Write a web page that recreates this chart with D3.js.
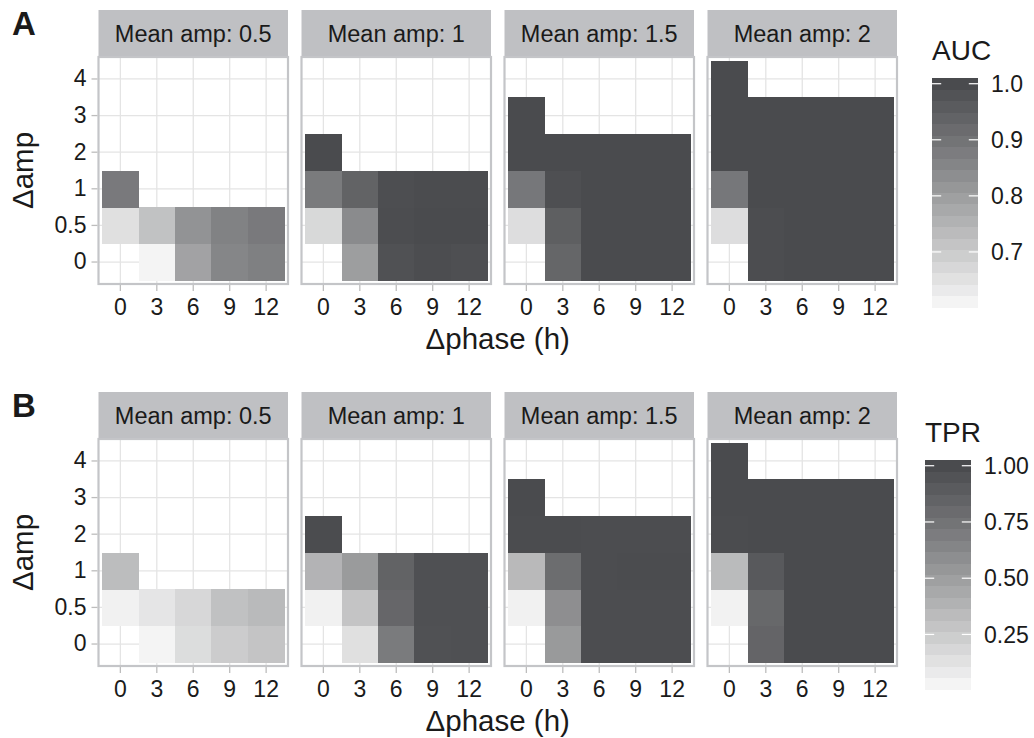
<!DOCTYPE html>
<html>
<head>
<meta charset="utf-8">
<script src="https://cdn.jsdelivr.net/npm/d3@7"></script>
<style>
  body { margin: 0; background: #fff; }
  svg text { font-family: "Liberation Sans", Arial, Helvetica, sans-serif; fill: #1a1a1a; }
</style>
</head>
<body>
<svg id="chart" width="1034" height="738"></svg>
<script>
const phases = ['0', '3', '6', '9', '12'];
const ampDiffs = ['0', '0.5', '1', '2', '3', '4'];
const meanAmps = ['0.5', '1', '1.5', '2'];

// rows follow ampDiffs, columns follow phases; null = no tile
const auc05 = [
    [null, 0.612, 0.79, 0.855, 0.87],
    [0.655, 0.72, 0.825, 0.865, 0.885],
    [0.885, null, null, null, null]
];
const auc1 = [
    [null, 0.80, 0.985, 0.995, 0.99],
    [0.67, 0.843, 0.995, 1.0, 1.0],
    [0.882, 0.94, 0.993, 0.998, 0.998],
    [1.0, null, null, null, null]
];
const auc15 = [
    [null, 0.933, 1.0, 1.0, 1.0],
    [0.66, 0.95, 1.0, 1.0, 1.0],
    [0.89, 0.99, 1.0, 1.0, 1.0],
    [1.0, 1.0, 1.0, 1.0, 1.0],
    [1.0, null, null, null, null]
];
const auc2 = [
    [null, 0.995, 1.0, 1.0, 1.0],
    [0.66, 0.995, 1.0, 1.0, 1.0],
    [0.89, 1.0, 1.0, 1.0, 1.0],
    [1.0, 1.0, 1.0, 1.0, 1.0],
    [1.0, 1.0, 1.0, 1.0, 1.0],
    [1.0, null, null, null, null]
];

const tpr05 = [
    [null, 0.033, 0.157, 0.247, 0.29],
    [0.05, 0.11, 0.186, 0.307, 0.345],
    [0.33, null, null, null, null]
];
const tpr1 = [
    [null, 0.14, 0.706, 0.96, 0.965],
    [0.05, 0.29, 0.827, 0.965, 0.965],
    [0.38, 0.52, 0.85, 0.97, 0.97],
    [0.995, null, null, null, null]
];
const tpr15 = [
    [null, 0.525, 0.99, 0.99, 0.99],
    [0.05, 0.59, 0.99, 0.99, 0.99],
    [0.35, 0.79, 0.99, 0.995, 0.995],
    [0.995, 0.995, 0.99, 0.99, 0.99],
    [1.0, null, null, null, null]
];
const tpr2 = [
    [null, 0.84, 1.0, 1.0, 1.0],
    [0.045, 0.82, 1.0, 1.0, 1.0],
    [0.34, 0.91, 1.0, 1.0, 1.0],
    [0.995, 1.0, 1.0, 1.0, 1.0],
    [1.0, 1.0, 1.0, 1.0, 1.0],
    [1.0, null, null, null, null]
];

const aucBreaks = [0.7, 0.8, 0.9, 1.0];
const tprBreaks = [0.25, 0.5, 0.75, 1.0];

const LOW = '#f4f4f4';
const HIGH = '#4a4b4e';
const PANEL_X0 = 98.5;
const PANEL_STEP = 203;
const PANEL_W = 189.5;
const PANEL_H = 227;
const STRIP_H = 47;
const N_BINS = 20;
const TICK_FONT = 23;
const TITLE_FONT = 29.5;

const svg = d3.select('#chart');

function toTiles(grid) {
    const tiles = [];
    grid.forEach((row, i) => {
        row.forEach((v, j) => {
            if (v !== null) tiles.push({ amp: ampDiffs[i], phase: phases[j], value: v });
        });
    });
    return tiles;
}

function styleAxis(axisG) {
    axisG.select('.domain').remove();
    axisG.selectAll('line').attr('stroke', '#bdbdbd').attr('stroke-width', 1.3);
    axisG.selectAll('text')
        .attr('font-size', TICK_FONT)
        .attr('font-family', '"Liberation Sans", Arial, sans-serif')
        .attr('fill', '#1a1a1a');
}

function drawRow(opts) {
    const { top, letter, grids, title, breaks, fmt, legendX } = opts;
    const panelTop = top + STRIP_H;
    const allValues = grids.flat(2).filter(v => v !== null);
    const extent = d3.extent(allValues);

    const color = d3.scaleLinear()
        .domain(extent)
        .range([LOW, HIGH])
        .interpolate(d3.interpolateLab);

    const x = d3.scaleBand().domain(phases).range([0, PANEL_W]).paddingInner(0).paddingOuter(0.1);
    const y = d3.scaleBand().domain(ampDiffs).range([PANEL_H, 0]).paddingInner(0).paddingOuter(0.1);

    svg.append('text')
        .attr('x', 12)
        .attr('y', top + 25)
        .attr('font-size', 33)
        .attr('font-weight', 'bold')
        .text(letter);

    grids.forEach((grid, k) => {
        const g = svg.append('g')
            .attr('transform', `translate(${PANEL_X0 + k * PANEL_STEP},${panelTop})`);

        // strip
        g.append('rect')
            .attr('x', 0)
            .attr('y', -STRIP_H)
            .attr('width', PANEL_W)
            .attr('height', STRIP_H)
            .attr('fill', '#bfc0c3');
        g.append('text')
            .attr('x', PANEL_W / 2)
            .attr('y', -STRIP_H / 2)
            .attr('dy', '0.36em')
            .attr('text-anchor', 'middle')
            .attr('font-size', 23.5)
            .text(`Mean amp: ${meanAmps[k]}`);

        g.append('rect')
            .attr('width', PANEL_W)
            .attr('height', PANEL_H)
            .attr('fill', '#fff');

        // grid lines
        g.append('g').selectAll('line')
            .data(phases)
            .join('line')
            .attr('x1', d => x(d) + x.bandwidth() / 2)
            .attr('x2', d => x(d) + x.bandwidth() / 2)
            .attr('y1', 0)
            .attr('y2', PANEL_H)
            .attr('stroke', '#e4e4e4')
            .attr('stroke-width', 1.3);
        g.append('g').selectAll('line')
            .data(ampDiffs)
            .join('line')
            .attr('x1', 0)
            .attr('x2', PANEL_W)
            .attr('y1', d => y(d) + y.bandwidth() / 2)
            .attr('y2', d => y(d) + y.bandwidth() / 2)
            .attr('stroke', '#e4e4e4')
            .attr('stroke-width', 1.3);

        g.append('g')
            .attr('shape-rendering', 'crispEdges')
            .selectAll('rect.tile')
            .data(toTiles(grid))
            .join('rect')
            .attr('class', 'tile')
            .attr('x', d => x(d.phase))
            .attr('y', d => y(d.amp))
            .attr('width', x.bandwidth() + 0.5)
            .attr('height', y.bandwidth() + 0.5)
            .attr('fill', d => color(d.value));

        g.append('rect')
            .attr('width', PANEL_W)
            .attr('height', PANEL_H)
            .attr('fill', 'none')
            .attr('stroke', '#c4c5c8')
            .attr('stroke-width', 2.2);

        const xAxis = g.append('g')
            .attr('transform', `translate(0,${PANEL_H + 1})`)
            .call(d3.axisBottom(x).tickSize(6).tickPadding(8));
        styleAxis(xAxis);

        if (k === 0) {
            const yAxis = g.append('g')
                .attr('transform', 'translate(-1,0)')
                .call(d3.axisLeft(y).tickSize(6).tickPadding(5));
            styleAxis(yAxis);
        }
    });

    // axis titles
    const panelsRight = PANEL_X0 + 3 * PANEL_STEP + PANEL_W;
    svg.append('text')
        .attr('x', (PANEL_X0 + panelsRight) / 2)
        .attr('y', panelTop + PANEL_H + 65)
        .attr('text-anchor', 'middle')
        .attr('font-size', TITLE_FONT)
        .text('Δphase (h)');
    svg.append('text')
        .attr('transform', `translate(33,${panelTop + PANEL_H / 2}) rotate(-90)`)
        .attr('text-anchor', 'middle')
        .attr('font-size', TITLE_FONT)
        .text('Δamp');

    // colour bar legend
    const barTop = top + 68;
    const barH = 229;
    const barW = 46;
    const binH = barH / N_BINS;
    const lg = svg.append('g').attr('transform', `translate(${legendX},0)`);
    lg.append('text')
        .attr('x', 0)
        .attr('y', top + 50)
        .attr('font-size', 28)
        .text(title);

    const bins = d3.range(N_BINS).map(i => extent[0] + (i / (N_BINS - 1)) * (extent[1] - extent[0]));
    lg.append('g')
        .attr('shape-rendering', 'crispEdges')
        .selectAll('rect.bin')
        .data(bins)
        .join('rect')
        .attr('class', 'bin')
        .attr('x', 0)
        .attr('y', (d, i) => barTop + barH - (i + 1) * binH)
        .attr('width', barW)
        .attr('height', binH + 0.5)
        .attr('fill', d => color(d));

    const barScale = d3.scaleLinear()
        .domain(extent)
        .range([barTop + barH - binH / 2, barTop + binH / 2]);

    const tickG = lg.selectAll('g.brk')
        .data(breaks)
        .join('g')
        .attr('class', 'brk')
        .attr('transform', d => `translate(0,${barScale(d)})`);
    tickG.append('line').attr('x1', 0).attr('x2', barW / 5)
        .attr('stroke', '#fff').attr('stroke-width', 1.2);
    tickG.append('line').attr('x1', barW - barW / 5).attr('x2', barW)
        .attr('stroke', '#fff').attr('stroke-width', 1.2);
    tickG.append('text')
        .attr('x', barW + 13)
        .attr('dy', '0.36em')
        .attr('font-size', TICK_FONT)
        .text(d => fmt(d));
}

drawRow({
    top: 10,
    letter: 'A',
    grids: [auc05, auc1, auc15, auc2],
    title: 'AUC',
    breaks: aucBreaks,
    fmt: d3.format('.1f'),
    legendX: 932
});

drawRow({
    top: 392,
    letter: 'B',
    grids: [tpr05, tpr1, tpr15, tpr2],
    title: 'TPR',
    breaks: tprBreaks,
    fmt: d3.format('.2f'),
    legendX: 925
});
</script>
</body>
</html>
